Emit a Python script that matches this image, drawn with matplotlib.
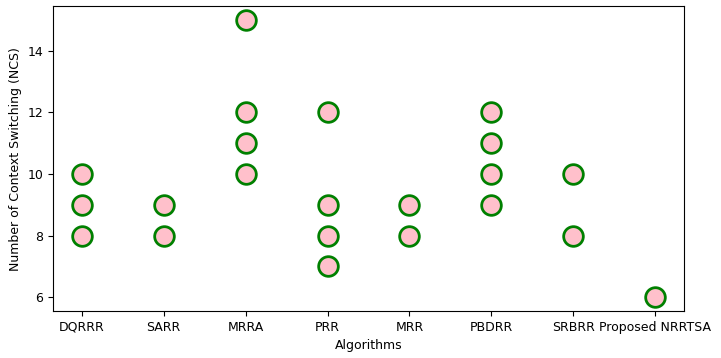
import matplotlib
matplotlib.use("Agg")
import matplotlib.pyplot as plt

algorithms = ["DQRRR", "SARR", "MRRA", "PRR", "MRR", "PBDRR", "SRBRR", "Proposed NRRTSA"]
ncs_values = [
    [10, 9, 8],
    [9, 8],
    [15, 12, 11, 10],
    [12, 9, 8, 7],
    [9, 8],
    [12, 11, 10, 9],
    [10, 8],
    [6],
]

plt.rcParams["font.size"] = 9

fig = plt.figure(figsize=(7.21, 3.58), dpi=100)
ax = fig.add_axes([0.0735, 0.131, 0.8752, 0.852])

xs = []
ys = []
for i, vals in enumerate(ncs_values):
    for v in vals:
        xs.append(algorithms[i])
        ys.append(v)

ax.scatter(xs, ys, s=200, c="pink", edgecolors="green", linewidths=2, zorder=3)
ax.set_xlabel("Algorithms")
ax.set_ylabel("Number of Context Switching (NCS)")

fig.savefig("out.png", dpi=100)
